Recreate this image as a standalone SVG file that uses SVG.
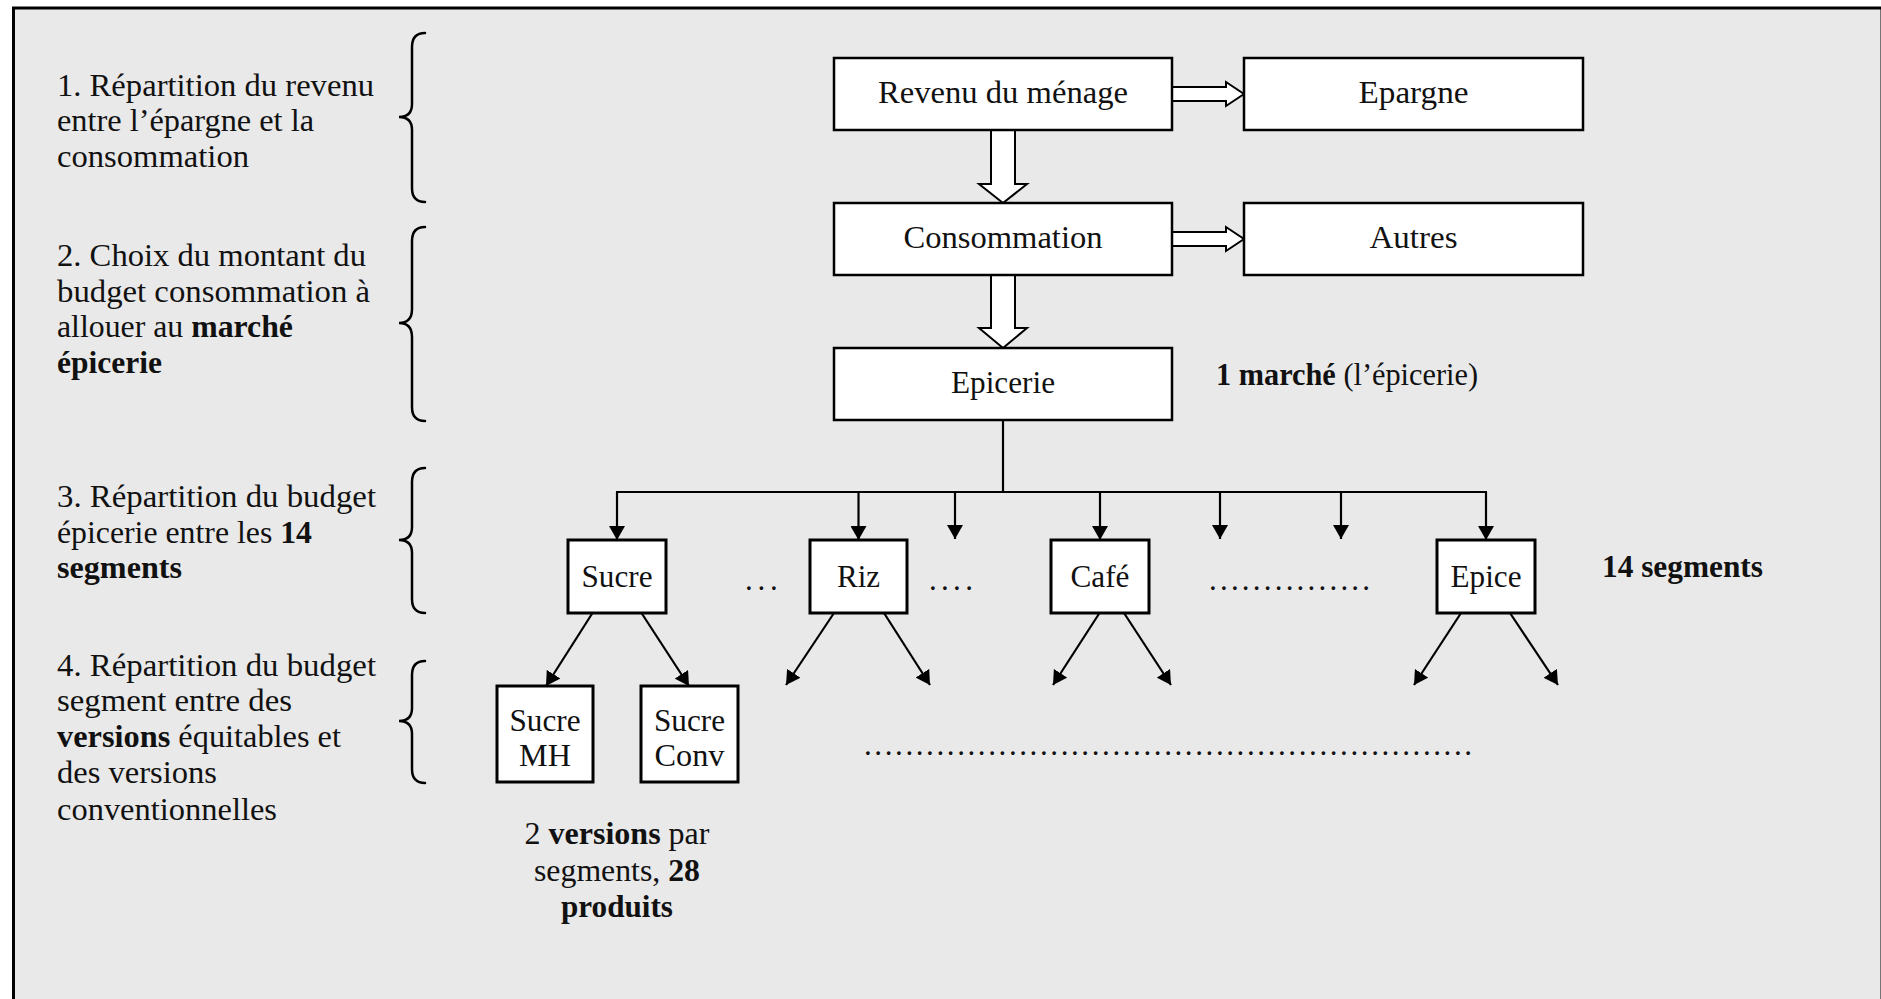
<svg xmlns="http://www.w3.org/2000/svg" width="1881" height="999" viewBox="0 0 1881 999">
<style>
text{font-family:"Liberation Serif","Times New Roman",serif;font-size:31px;fill:#111}
.c{text-anchor:middle}
.b{font-weight:bold}
.box{fill:#fff;stroke:#000;stroke-width:2.5}
.sbox{fill:#fff;stroke:#000;stroke-width:3}
.hollow{fill:#fff;stroke:#000;stroke-width:2;stroke-linejoin:miter}
.ln{fill:none;stroke:#000;stroke-width:2.2}
.brace{fill:none;stroke:#000;stroke-width:2.5;stroke-linecap:round}
.dots{letter-spacing:2.6px}
</style>
<defs>
<marker id="ah" viewBox="0 0 14 16" refX="14" refY="8" markerWidth="14" markerHeight="16" markerUnits="userSpaceOnUse" orient="auto">
<path d="M0,0 L14,8 L0,16 Z" fill="#000"/>
</marker>
</defs>
<rect x="0" y="0" width="1881" height="999" fill="#fff"/>
<rect x="13.5" y="8" width="1868.5" height="1100" fill="#e9e9e9" stroke="#000" stroke-width="3"/>

<g id="step-labels">
<text x="57" y="96" textLength="317" lengthAdjust="spacingAndGlyphs">1. Répartition du revenu</text>
<text x="57" y="131" textLength="257" lengthAdjust="spacingAndGlyphs">entre l’épargne et la</text>
<text x="57" y="167" textLength="192" lengthAdjust="spacingAndGlyphs">consommation</text>
<text x="57" y="266" textLength="309" lengthAdjust="spacingAndGlyphs">2. Choix du montant du</text>
<text x="57" y="302" textLength="313" lengthAdjust="spacingAndGlyphs">budget consommation à</text>
<text x="57" y="337" textLength="236" lengthAdjust="spacingAndGlyphs">allouer au <tspan class="b">marché</tspan></text>
<text x="57" y="373" class="b" textLength="105" lengthAdjust="spacingAndGlyphs">épicerie</text>
<text x="57" y="507" textLength="319" lengthAdjust="spacingAndGlyphs">3. Répartition du budget</text>
<text x="57" y="543" textLength="255" lengthAdjust="spacingAndGlyphs">épicerie entre les <tspan class="b">14</tspan></text>
<text x="57" y="578" class="b" textLength="125" lengthAdjust="spacingAndGlyphs">segments</text>
<text x="57" y="676" textLength="319" lengthAdjust="spacingAndGlyphs">4. Répartition du budget</text>
<text x="57" y="711" textLength="235" lengthAdjust="spacingAndGlyphs">segment entre des</text>
<text x="57" y="747" textLength="284" lengthAdjust="spacingAndGlyphs"><tspan class="b">versions</tspan> équitables et</text>
<text x="57" y="783" textLength="160" lengthAdjust="spacingAndGlyphs">des versions</text>
<text x="57" y="820" textLength="220" lengthAdjust="spacingAndGlyphs">conventionnelles</text>
</g>

<g id="braces">
<path class="brace" d="M425,33 Q412,33 412,47 L412,104 Q412,117 399,117 Q412,117 412,130 L412,188 Q412,202 425,202"/>
<path class="brace" d="M425,227 Q412,227 412,241 L412,309 Q412,323 399,323 Q412,323 412,337 L412,407 Q412,421 425,421"/>
<path class="brace" d="M425,468 Q412,468 412,482 L412,527 Q412,540 399,540 Q412,540 412,553 L412,599 Q412,613 425,613"/>
<path class="brace" d="M425,661 Q412,661 412,675 L412,708 Q412,721 399,721 Q412,721 412,734 L412,769 Q412,783 425,783"/>
</g>

<g id="connectors">
<polygon class="hollow" points="1172,87 1226,87 1226,82 1244,94 1226,106 1226,101 1172,101"/>
<polygon class="hollow" points="1172,232 1226,232 1226,227 1244,239 1226,251 1226,246 1172,246"/>
<polygon class="hollow" points="991,130 991,184 979,184 1003,203 1027,184 1015,184 1015,130"/>
<polygon class="hollow" points="991,275 991,328 979,328 1003,348 1027,328 1015,328 1015,275"/>
<line class="ln" x1="1003" y1="420" x2="1003" y2="492"/>
<line class="ln" x1="616" y1="492" x2="1487" y2="492"/>
<line class="ln" x1="617" y1="492" x2="617" y2="540" marker-end="url(#ah)"/>
<line class="ln" x1="858.5" y1="492" x2="858.5" y2="540" marker-end="url(#ah)"/>
<line class="ln" x1="955" y1="492" x2="955" y2="539" marker-end="url(#ah)"/>
<line class="ln" x1="1100" y1="492" x2="1100" y2="540" marker-end="url(#ah)"/>
<line class="ln" x1="1220" y1="492" x2="1220" y2="539" marker-end="url(#ah)"/>
<line class="ln" x1="1341" y1="492" x2="1341" y2="539" marker-end="url(#ah)"/>
<line class="ln" x1="1486" y1="492" x2="1486" y2="540" marker-end="url(#ah)"/>
<line class="ln" x1="592.5" y1="613" x2="546" y2="686" marker-end="url(#ah)"/>
<line class="ln" x1="641.5" y1="613" x2="689" y2="686" marker-end="url(#ah)"/>
<line class="ln" x1="834" y1="613" x2="786" y2="685" marker-end="url(#ah)"/>
<line class="ln" x1="884" y1="613" x2="930" y2="685" marker-end="url(#ah)"/>
<line class="ln" x1="1099.5" y1="613" x2="1053" y2="685" marker-end="url(#ah)"/>
<line class="ln" x1="1124" y1="613" x2="1171" y2="685" marker-end="url(#ah)"/>
<line class="ln" x1="1461" y1="613" x2="1414" y2="685" marker-end="url(#ah)"/>
<line class="ln" x1="1510" y1="613" x2="1558" y2="685" marker-end="url(#ah)"/>
</g>

<g id="node-revenu"><rect class="box" x="834" y="58" width="338" height="72"/><text class="c" x="1003" y="103" textLength="250" lengthAdjust="spacingAndGlyphs">Revenu du ménage</text></g>
<g id="node-epargne"><rect class="box" x="1244" y="58" width="339" height="72"/><text class="c" x="1413.5" y="103" textLength="110" lengthAdjust="spacingAndGlyphs">Epargne</text></g>
<g id="node-consommation"><rect class="box" x="834" y="203" width="338" height="72"/><text class="c" x="1003" y="248" textLength="199" lengthAdjust="spacingAndGlyphs">Consommation</text></g>
<g id="node-autres"><rect class="box" x="1244" y="203" width="339" height="72"/><text class="c" x="1413.5" y="248" textLength="88" lengthAdjust="spacingAndGlyphs">Autres</text></g>
<g id="node-epicerie"><rect class="box" x="834" y="348" width="338" height="72"/><text class="c" x="1003" y="393" textLength="104" lengthAdjust="spacingAndGlyphs">Epicerie</text></g>
<g id="node-sucre"><rect class="sbox" x="568" y="540" width="98" height="73"/><text class="c" x="617" y="587" textLength="71" lengthAdjust="spacingAndGlyphs">Sucre</text></g>
<g id="node-riz"><rect class="sbox" x="810" y="540" width="97" height="73"/><text class="c" x="858.5" y="587" textLength="43" lengthAdjust="spacingAndGlyphs">Riz</text></g>
<g id="node-cafe"><rect class="sbox" x="1051" y="540" width="98" height="73"/><text class="c" x="1100" y="587" textLength="59" lengthAdjust="spacingAndGlyphs">Café</text></g>
<g id="node-epice"><rect class="sbox" x="1437" y="540" width="98" height="73"/><text class="c" x="1486" y="587" textLength="71" lengthAdjust="spacingAndGlyphs">Epice</text></g>
<g id="node-sucre-mh"><rect class="sbox" x="497" y="686" width="96" height="96"/><text class="c" x="545" y="731" textLength="71" lengthAdjust="spacingAndGlyphs">Sucre</text><text class="c" x="545" y="766" textLength="52" lengthAdjust="spacingAndGlyphs">MH</text></g>
<g id="node-sucre-conv"><rect class="sbox" x="641" y="686" width="97" height="96"/><text class="c" x="689.5" y="731" textLength="71" lengthAdjust="spacingAndGlyphs">Sucre</text><text class="c" x="689.5" y="766" textLength="70" lengthAdjust="spacingAndGlyphs">Conv</text></g>

<g id="annotations">
<text x="1216" y="385" textLength="262" lengthAdjust="spacingAndGlyphs"><tspan class="b">1 marché</tspan> (l’épicerie)</text>
<text x="1602" y="577" class="b" textLength="161" lengthAdjust="spacingAndGlyphs">14 segments</text>
<text class="c" x="617" y="844" textLength="185" lengthAdjust="spacingAndGlyphs">2 <tspan class="b">versions</tspan> par</text>
<text class="c" x="617" y="881" textLength="166" lengthAdjust="spacingAndGlyphs">segments, <tspan class="b">28</tspan></text>
<text class="c b" x="617" y="917" textLength="112" lengthAdjust="spacingAndGlyphs">produits</text>
<text class="dots" x="745" y="590" style="letter-spacing:4.8px">...</text>
<text class="dots" x="929" y="590" style="letter-spacing:4.3px">....</text>
<text class="dots" x="1209" y="590" style="letter-spacing:3.2px">...............</text>
<text class="dots" x="864" y="755">...........................................................</text>
</g>
</svg>
